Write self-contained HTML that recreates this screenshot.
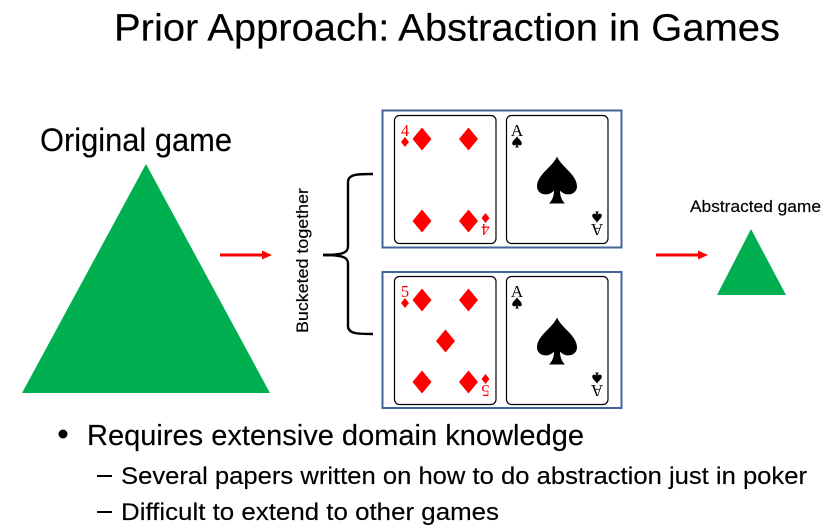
<!DOCTYPE html>
<html>
<head>
<meta charset="utf-8">
<style>
html,body{margin:0;padding:0;background:#fff;width:837px;height:530px;overflow:hidden}
svg{display:block}
text{font-family:"Liberation Sans",sans-serif;fill:#000;stroke:#000;stroke-width:.15}
.s{font-family:"Liberation Serif",serif;stroke-width:0}
.r{fill:#ff0000;stroke-width:0}
</style>
</head>
<body>
<svg width="837" height="530" viewBox="0 0 837 530" xmlns="http://www.w3.org/2000/svg">
<defs>
<path id="d" d="M0,-11.5 L9.5,0 L0,11.5 L-9.5,0 Z" fill="#ff0000"/>
<path id="sd" d="M0,-5 L4,0 L0,5 L-4,0 Z" fill="#ff0000"/>
<path id="sp" d="M0,-24 C-4,-14 -20,-6 -20,6 C-20,14 -9,17 -3,10 C-3,16 -5,20 -8,23 L8,23 C5,20 3,16 3,10 C9,17 20,14 20,6 C20,-6 4,-14 0,-24 Z" fill="#000"/>
<g id="ace">
<rect x="0" y="0" width="101.5" height="128" rx="5" fill="#fff" stroke="#000" stroke-width="1.2"/>
<use href="#sp" x="50.5" y="65"/>
<text class="s" x="10.5" y="20.5" font-size="17" text-anchor="middle">A</text>
<use href="#sp" transform="translate(10.5,26.5) scale(0.24)"/>
<text class="s" font-size="17" text-anchor="middle" transform="translate(90.5,108.5) rotate(180)">A</text>
<use href="#sp" transform="translate(90.5,101.5) rotate(180) scale(0.24)"/>
</g>
</defs>

<text x="114" y="40.5" font-size="38" textLength="666" lengthAdjust="spacingAndGlyphs">Prior Approach: Abstraction in Games</text>

<text x="40" y="151" font-size="32" textLength="192" lengthAdjust="spacingAndGlyphs">Original game</text>
<polygon points="146,164 22,393 270,393" fill="#00b050"/>

<line x1="220" y1="255" x2="263" y2="255" stroke="#ff0000" stroke-width="3"/>
<polygon points="262,250.5 272,255 262,259.5" fill="#ff0000"/>

<text transform="translate(308,333) rotate(-90)" font-size="17" textLength="145" lengthAdjust="spacingAndGlyphs">Bucketed together</text>

<path d="M373,174 C358,174 348,174 348,182 L348,246 C348,252 345,255 323,255 C345,255 348,258 348,264 L348,326 C348,334 358,334 373,334" fill="none" stroke="#000" stroke-width="2.4"/>
<line x1="323" y1="255" x2="337" y2="255" stroke="#000" stroke-width="2.6"/>

<rect x="382.5" y="110.5" width="239" height="137" fill="#fff" stroke="#41669a" stroke-width="2"/>
<rect x="382.5" y="272" width="239" height="136" fill="#fff" stroke="#41669a" stroke-width="2"/>

<!-- four of diamonds -->
<rect x="394.5" y="115.5" width="101.5" height="128" rx="5" fill="#fff" stroke="#000" stroke-width="1.2"/>
<text class="s r" x="405" y="136" font-size="16.5" text-anchor="middle">4</text>
<use href="#sd" x="405" y="142"/>
<use href="#d" x="422" y="139"/>
<use href="#d" x="468.5" y="139"/>
<use href="#d" x="422" y="221"/>
<use href="#d" x="468.5" y="221"/>
<use href="#sd" x="485.5" y="218"/>
<text class="s r" font-size="16.5" text-anchor="middle" transform="translate(485.5,224) rotate(180)">4</text>

<use href="#ace" x="506.5" y="115.5"/>

<!-- five of diamonds -->
<rect x="394.5" y="276.5" width="101.5" height="128" rx="5" fill="#fff" stroke="#000" stroke-width="1.2"/>
<text class="s r" x="405" y="297" font-size="16.5" text-anchor="middle">5</text>
<use href="#sd" x="405" y="303"/>
<use href="#d" x="422" y="300"/>
<use href="#d" x="468.5" y="300"/>
<use href="#d" x="445.5" y="341"/>
<use href="#d" x="422" y="382"/>
<use href="#d" x="468.5" y="382"/>
<use href="#sd" x="485.5" y="379"/>
<text class="s r" font-size="16.5" text-anchor="middle" transform="translate(485.5,385) rotate(180)">5</text>

<use href="#ace" x="506.5" y="276.5"/>

<line x1="656" y1="255" x2="699" y2="255" stroke="#ff0000" stroke-width="3"/>
<polygon points="698,250.5 708,255 698,259.5" fill="#ff0000"/>

<text x="690" y="212" font-size="17" textLength="131" lengthAdjust="spacingAndGlyphs">Abstracted game</text>
<polygon points="751,229 717,295 786,295" fill="#00b050"/>

<circle cx="63" cy="434" r="4.5" fill="#000"/>
<text x="87" y="445" font-size="29" textLength="497" lengthAdjust="spacingAndGlyphs">Requires extensive domain knowledge</text>
<rect x="97" y="475" width="15" height="2" fill="#000"/>
<text x="121" y="484" font-size="24.5" textLength="686" lengthAdjust="spacingAndGlyphs">Several papers written on how to do abstraction just in poker</text>
<rect x="97" y="511" width="15" height="2" fill="#000"/>
<text x="121" y="520" font-size="24.5" textLength="378" lengthAdjust="spacingAndGlyphs">Difficult to extend to other games</text>
</svg>
</body>
</html>
